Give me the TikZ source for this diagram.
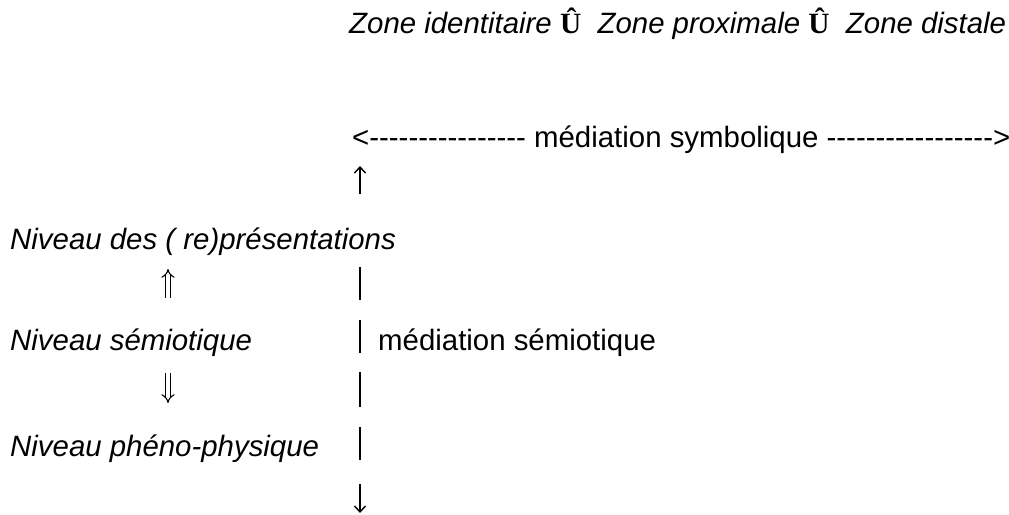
\documentclass[tikz,border=0pt]{standalone}
\usepackage{fontspec}
\setmainfont{Liberation Sans}
\newfontfamily\hatfont{Liberation Serif}
\usetikzlibrary{arrows.meta}
\tikzset{
  font=\fontsize{29.4}{35}\selectfont,
  zonelabel/.style={anchor=base west, inner sep=0pt, font=\fontsize{29.4}{35}\selectfont\itshape},
  levellabel/.style={anchor=base west, inner sep=0pt, font=\fontsize{29.4}{35}\selectfont\itshape},
  medlabel/.style={anchor=base west, inner sep=0pt},
  medline/.style={draw=black, line width=1.4pt},
  medarrow/.style={medline, -{Straight Barb[length=6pt, width=11pt]}},
  levelarrow/.style={draw=black, double, double distance=3.4pt, line width=1.1pt, -{Implies[length=7pt, width=15pt]}}
}
\newcommand{\zonesep}{ {\hatfont\bfseries\upshape Û}\ \ }
\newcommand{\dashrun}[1]{\foreach \d in {1,...,#1}{-}}

\begin{document}
\begin{tikzpicture}[x=1pt, y=-1pt]
  \useasboundingbox (0,0) rectangle (1009,514);

  % Zones (top)
  \node[zonelabel] (zones) at (349,33) {Zone identitaire\zonesep Zone proximale\zonesep Zone distale};
  \node[medlabel] (symb) at (352,147) {<\dashrun{16} médiation symbolique \dashrun{17}>};

  % Levels (left column)
  \node[levellabel] (rep) at (10,249) {Niveau des ( re)présentations};
  \node[levellabel] (sem) at (10,350) {Niveau sémiotique};
  \node[levellabel] (phy) at (10,456) {Niveau phéno-physique};
  \node[medlabel] (semmed) at (378,350) {médiation sémiotique};

  % Arrows between levels
  \coordinate (repup) at (168,269);
  \coordinate (semup) at (168,298);
  \coordinate (semdown) at (168,373);
  \coordinate (phydown) at (168,403);
  \draw[levelarrow] (semup) -- (repup);
  \draw[levelarrow] (semdown) -- (phydown);

  % Semiotic mediation axis
  \coordinate (medtop) at (360,166);
  \coordinate (medtopend) at (360,194);
  \coordinate (medstart) at (360,267);
  \coordinate (medend) at (360,460);
  \coordinate (medbotstart) at (360,484);
  \coordinate (medbot) at (360,513);
  \draw[medarrow] (medtopend) -- (medtop);
  \draw[medline, dash pattern=on 33pt off 20pt on 33pt off 19pt on 35pt off 20pt on 33pt off 40pt] (medstart) -- (medend);
  \draw[medarrow] (medbotstart) -- (medbot);
\end{tikzpicture}
\end{document}
